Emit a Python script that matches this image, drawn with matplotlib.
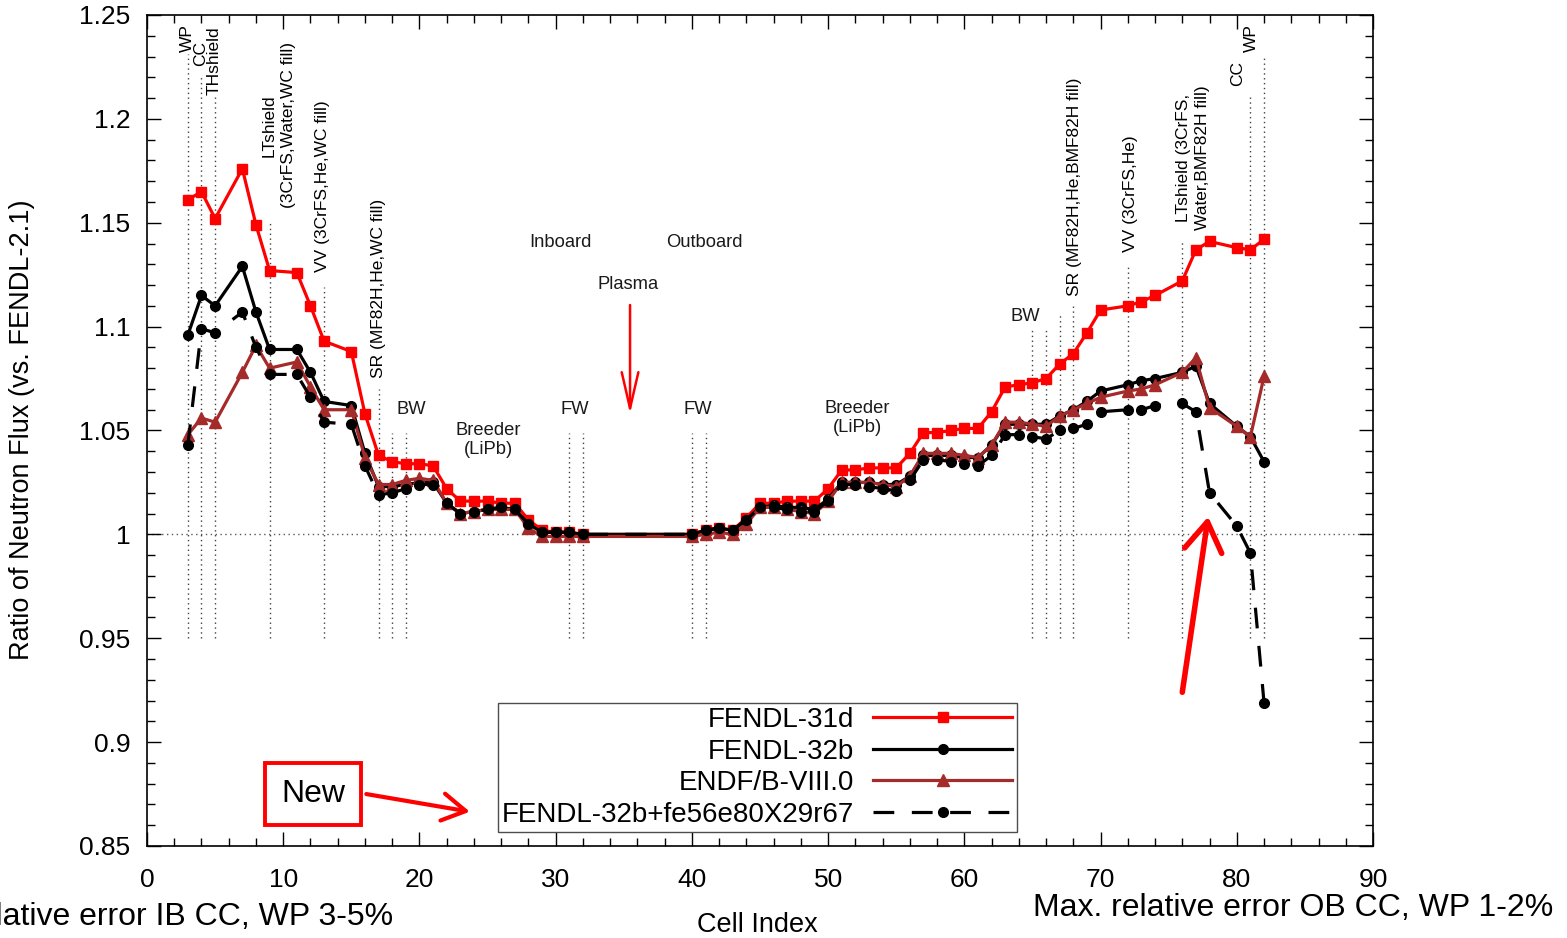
import matplotlib.pyplot as plt
from matplotlib.ticker import MultipleLocator, FuncFormatter

plt.rcParams['font.family'] = ['Liberation Sans', 'DejaVu Sans']

# cell indices along the radial build (inboard -> plasma -> outboard)
cells = [3, 4, 5, 7, 8, 9, 11, 12, 13, 15,
         16, 17, 18, 19, 20, 21, 22, 23, 24, 25, 26, 27, 28, 29, 30, 31, 32,
         40, 41, 42, 43, 44, 45, 46, 47, 48, 49, 50, 51, 52, 53, 54, 55, 56, 57, 58, 59,
         60, 61, 62, 63, 64, 65, 66, 67, 68, 69, 70,
         72, 73, 74, 76, 77, 78, 80, 81, 82]

fendl31d = [1.161, 1.165, 1.152, 1.176, 1.149, 1.127, 1.126, 1.110, 1.093, 1.088,
            1.058, 1.038, 1.035, 1.034, 1.034, 1.033, 1.022, 1.016, 1.016, 1.016, 1.015, 1.015, 1.007, 1.002, 1.001, 1.001, 1.000,
            1.000, 1.002, 1.003, 1.002, 1.008, 1.015, 1.015, 1.016, 1.016, 1.016, 1.022, 1.031, 1.031, 1.032, 1.032, 1.032, 1.039, 1.049, 1.049, 1.050,
            1.051, 1.051, 1.059, 1.071, 1.072, 1.073, 1.075, 1.082, 1.087, 1.097, 1.108,
            1.110, 1.112, 1.115, 1.122, 1.137, 1.141, 1.138, 1.137, 1.142]

fendl32b = [1.096, 1.115, 1.110, 1.129, 1.107, 1.089, 1.089, 1.078, 1.064, 1.062,
            1.039, 1.023, 1.023, 1.024, 1.025, 1.025, 1.015, 1.010, 1.011, 1.012, 1.013, 1.012, 1.005, 1.001, 1.001, 1.001, 1.000,
            1.000, 1.002, 1.003, 1.002, 1.007, 1.013, 1.014, 1.013, 1.013, 1.012, 1.017, 1.025, 1.025, 1.025, 1.024, 1.024, 1.028, 1.038, 1.038, 1.038,
            1.037, 1.037, 1.043, 1.053, 1.053, 1.053, 1.053, 1.057, 1.060, 1.064, 1.069,
            1.072, 1.074, 1.075, 1.078, 1.081, 1.063, 1.052, 1.047, 1.035]

endfb8 = [1.048, 1.056, 1.054, 1.078, 1.091, 1.080, 1.083, 1.071, 1.060, 1.060,
          1.037, 1.024, 1.024, 1.026, 1.027, 1.026, 1.015, 1.010, 1.011, 1.012, 1.012, 1.012, 1.003, 0.999, 0.999, 0.999, 0.999,
          0.999, 1.000, 1.001, 1.000, 1.005, 1.013, 1.013, 1.012, 1.011, 1.010, 1.016, 1.025, 1.025, 1.025, 1.024, 1.023, 1.028, 1.039, 1.039, 1.039,
          1.038, 1.037, 1.043, 1.054, 1.054, 1.053, 1.052, 1.057, 1.060, 1.063, 1.066,
          1.069, 1.070, 1.072, 1.078, 1.085, 1.061, 1.052, 1.047, 1.076]

fendl32b_fe56 = [1.043, 1.099, 1.097, 1.107, 1.090, 1.077, 1.077, 1.066, 1.054, 1.053,
                 1.033, 1.019, 1.020, 1.022, 1.024, 1.024, 1.015, 1.010, 1.011, 1.012, 1.013, 1.012, 1.005, 1.001, 1.001, 1.001, 1.000,
                 1.000, 1.002, 1.003, 1.002, 1.007, 1.013, 1.013, 1.012, 1.011, 1.011, 1.016, 1.024, 1.024, 1.023, 1.022, 1.021, 1.026, 1.036, 1.036, 1.035,
                 1.034, 1.033, 1.038, 1.048, 1.048, 1.047, 1.046, 1.050, 1.051, 1.053, 1.059,
                 1.060, 1.060, 1.062, 1.063, 1.059, 1.020, 1.004, 0.991, 0.919]

# layer boundaries (dotted vertical lines) and where each line starts at the top
boundary_cells = [3, 4, 5, 9, 13, 17, 18, 19, 31, 32, 40, 41, 65, 66, 67, 68, 72, 76, 81, 82]
boundary_tops = [1.231, 1.220, 1.211, 1.150, 1.119, 1.070, 1.049, 1.049, 1.049, 1.049,
                 1.049, 1.049, 1.099, 1.099, 1.106, 1.110, 1.130, 1.141, 1.211, 1.230]

# vertical component labels: text, x, y (bottom of the text)
vert_labels = [
    ('WP', 2.94, 1.2322),
    ('CC', 3.96, 1.2255),
    ('THshield', 4.92, 1.2115),
    ('LTshield\n(3CrFS,Water,WC fill)', 9.69, 1.157),
    ('VV (3CrFS,He,WC fill)', 12.92, 1.1263),
    ('SR (MF82H,He,WC fill)', 16.96, 1.0753),
    ('SR (MF82H,He,BMF82H fill)', 68.06, 1.1148),
    ('VV (3CrFS,He)', 72.17, 1.1359),
    ('LTshield (3CrFS,\nWater,BMF82H fill)', 76.8, 1.1465),
    ('CC', 80.03, 1.2158),
    ('WP', 81.06, 1.2322),
]

# horizontal region labels: text, x, y (centre)
horiz_labels = [
    ('BW', 19.38, 1.0603),
    ('Breeder\n(LiPb)', 25.04, 1.0454),
    ('FW', 31.42, 1.0603),
    ('Inboard', 30.32, 1.1403),
    ('Outboard', 40.9, 1.1403),
    ('Plasma', 35.3, 1.1203),
    ('FW', 40.45, 1.0603),
    ('Breeder\n(LiPb)', 52.13, 1.056),
    ('BW', 64.46, 1.1051),
]

fig = plt.figure(figsize=(15.67, 9.38), dpi=100)
ax = fig.add_axes([147 / 1567, 1 - 846 / 938, 1226 / 1567, 831 / 938])

ax.axhline(1.0, color='0.35', lw=1, ls=(0, (1, 2.5)), zorder=1)
ax.vlines(boundary_cells, 0.95, boundary_tops, colors='0.25', lw=1, linestyles=[(0, (1, 2.5))], zorder=1)

ax.plot(cells, fendl31d, color='#ff0000', lw=2.3, marker='s', ms=7, label='FENDL-31d', zorder=3)
ax.plot(cells, fendl32b, color='black', lw=2.3, marker='o', ms=7, label='FENDL-32b', zorder=4)
ax.plot(cells, endfb8, color='#a52a2a', lw=2.3, marker='^', ms=8, label='ENDF/B-VIII.0', zorder=5)
ax.plot(cells, fendl32b_fe56, color='black', lw=2.3, ls=(0, (6.5, 5.5)), marker='o', ms=7,
        label='FENDL-32b+fe56e80X29r67', zorder=6)

for txt, x, y in vert_labels:
    ax.text(x, y, txt, rotation=90, ha='center', va='bottom', fontsize=12.5, color='black',
            linespacing=1.35)
for txt, x, y in horiz_labels:
    ax.text(x, y, txt, ha='center', va='center', fontsize=13.2, color='#1a1a1a', linespacing=1.1)

# plasma marker arrow
ax.annotate('', xy=(35.46, 1.058), xytext=(35.46, 1.1104),
            arrowprops=dict(arrowstyle='->,head_length=1.3,head_width=0.3', color='red', lw=1.8,
                            mutation_scale=20, shrinkA=0, shrinkB=0))
# arrow pointing at the outboard drop
ax.annotate('', xy=(77.9, 1.0085), xytext=(76.0, 0.924),
            arrowprops=dict(arrowstyle='->,head_length=0.7,head_width=0.45', color='red', lw=4,
                            mutation_scale=30, shrinkA=0, shrinkB=0))
# "New" callout
ax.text(12.2, 0.875, 'New', fontsize=23, ha='center', va='center',
        bbox=dict(boxstyle='square,pad=0.5', fc='white', ec='red', lw=2.8))
ax.annotate('', xy=(23.7, 0.8665), xytext=(16.1, 0.875),
            arrowprops=dict(arrowstyle='->,head_length=0.6,head_width=0.35', color='red', lw=3,
                            mutation_scale=28, shrinkA=0, shrinkB=0))

ax.set_xlim(0, 90)
ax.set_ylim(0.85, 1.25)
ax.xaxis.set_major_locator(MultipleLocator(10))
ax.xaxis.set_minor_locator(MultipleLocator(2))
ax.yaxis.set_major_locator(MultipleLocator(0.05))
ax.yaxis.set_minor_locator(MultipleLocator(0.01))
ax.yaxis.set_major_formatter(FuncFormatter(lambda v, p: '%g' % round(v, 3)))
ax.tick_params(which='both', direction='in', top=True, right=True, labelsize=19, width=1)
ax.tick_params(which='major', length=10)
ax.tick_params(which='minor', length=6)
ax.tick_params(axis='x', pad=16)
ax.tick_params(axis='y', pad=12)
for s in ax.spines.values():
    s.set_linewidth(1.2)

leg = ax.legend(loc='lower left', bbox_to_anchor=(0.286, 0.017), fontsize=20, markerfirst=False,
                handlelength=5.0, handletextpad=0.7, labelspacing=0.2, borderpad=0.15,
                borderaxespad=0, fancybox=False, framealpha=1, edgecolor='0.3')
leg.get_frame().set_linewidth(1)

fig.text(22 / 1567, 0.5416, 'Ratio of Neutron Flux (vs. FENDL-2.1)', rotation=90,
         ha='center', va='center', fontsize=19.5)
fig.text(757 / 1567, 1 - 925 / 938, 'Cell Index', ha='center', va='center', fontsize=19.5)
fig.text(393 / 1567, 1 - 917 / 938, 'Max. relative error IB CC, WP 3-5%', ha='right', va='center', fontsize=23)
fig.text(1553 / 1567, 1 - 908 / 938, 'Max. relative error OB CC, WP 1-2%', ha='right', va='center', fontsize=23)

fig.savefig('out.png', dpi=100)
